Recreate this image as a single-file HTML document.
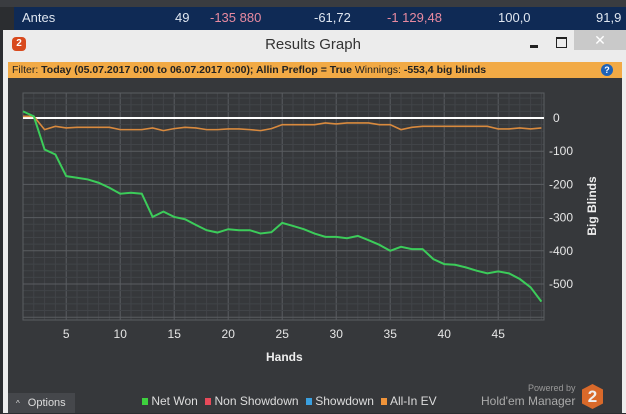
<!DOCTYPE html>
<html><head><meta charset="utf-8"><style>
body{margin:0;width:626px;height:413px;overflow:hidden;background:#2b2d30;font-family:"Liberation Sans",sans-serif;position:relative}
.abs{position:absolute}
</style></head><body>
<div class="abs" style="left:0;top:0;width:626px;height:7px;background:#3a3c40"></div>
<div class="abs" style="left:14px;top:7px;width:612px;height:23px;background:#0f2a55;color:#dfe6f0;font-size:13px">
 <span class="abs" style="left:8px;top:3px">Antes</span>
 <span class="abs" style="left:161px;top:3px">49</span>
 <span class="abs" style="left:196px;top:3px;color:#e88aa0">-135 880</span>
 <span class="abs" style="left:300px;top:3px">-61,72</span>
 <span class="abs" style="left:373px;top:3px;color:#e88aa0">-1 129,48</span>
 <span class="abs" style="left:484px;top:3px">100,0</span>
 <span class="abs" style="left:582px;top:3px">91,9</span>
</div>
<div class="abs" style="left:3px;top:30px;width:623px;height:383px;background:#ececec"></div>
<div class="abs" style="left:12px;top:37px;width:14px;height:14px;border-radius:4px;background:#d84a1e;color:#fff;font-size:10px;font-weight:bold;text-align:center;line-height:14px">2</div>
<div class="abs" style="left:0;top:36px;width:626px;text-align:center;font-size:15px;color:#333">Results Graph</div>
<div class="abs" style="left:530px;top:45px;width:8px;height:3px;background:#222"></div>
<div class="abs" style="left:556px;top:37px;width:9px;height:8px;border:1px solid #222;border-top-width:2px"></div>
<div class="abs" style="left:574px;top:30px;width:52px;height:20px;background:#c9c9c9;color:#fff;font-size:14px;text-align:center;line-height:20px">✕</div>
<div class="abs" style="left:8px;top:62px;width:614px;height:16px;background:#f2aa45;font-size:10.5px;color:#222;line-height:16px;white-space:nowrap">
 <span style="margin-left:4px">Filter: <b>Today (05.07.2017 0:00 to 06.07.2017 0:00); Allin Preflop = True</b> Winnings: <b>-553,4 big blinds</b></span>
 <span class="abs" style="left:593px;top:2px;width:12px;height:12px;border-radius:6px;background:#1d62b8;color:#fff;font-size:9px;font-weight:bold;text-align:center;line-height:12px">?</span>
</div>
<div class="abs" style="left:8px;top:78px;width:614px;height:335px;background:#36383b"></div>
<svg class="abs" style="left:0;top:0" width="626" height="413">
<g id="grid"></g><g id="series"></g><g id="axes"></g>
</svg>
<div class="abs" style="left:266px;top:350px;color:#eee;font-size:12px;font-weight:bold">Hands</div>
<div class="abs" style="left:592px;top:206px;color:#eee;font-size:12px;font-weight:bold;transform:translate(-50%,-50%) rotate(-90deg);white-space:nowrap">Big Blinds</div>
<div class="abs" style="left:8px;top:393px;width:67px;height:20px;background:#45474b;color:#ddd;font-size:11px;line-height:20px"><span style="margin-left:8px;font-size:8px">^</span><span style="margin-left:8px">Options</span></div>
<div class="abs" style="left:142px;top:394px;color:#ddd;font-size:12px;white-space:nowrap">
 <span><span style="display:inline-block;width:6px;height:7px;background:#3ed13e"></span> Net Won</span>
 <span style="margin-left:4px"><span style="display:inline-block;width:6px;height:7px;background:#e84a5a"></span> Non Showdown</span>
 <span style="margin-left:4px"><span style="display:inline-block;width:6px;height:7px;background:#3aa0e0"></span> Showdown</span>
 <span style="margin-left:4px"><span style="display:inline-block;width:6px;height:7px;background:#f0943a"></span> All-In EV</span>
</div>
<div class="abs" style="left:528px;top:383px;color:#999;font-size:9px">Powered by</div>
<div class="abs" style="left:481px;top:394px;color:#aaa;font-size:12px">Hold'em Manager</div>
<div class="abs" style="left:582px;top:384px;width:21px;height:25px;background:#d9692a;color:#eee;font-weight:bold;font-size:17px;text-align:center;line-height:25px;clip-path:polygon(50% 0,100% 22%,100% 78%,50% 100%,0 78%,0 22%)">2</div>
<script>
const hands=[1,2,3,4,5,6,7,8,9,10,11,12,13,14,15,16,17,18,19,20,21,22,23,24,25,26,27,28,29,30,31,32,33,34,35,36,37,38,39,40,41,42,43,44,45,46,47,48,49];
const netWon=[20,5,-95,-110,-175,-180,-185,-195,-210,-228,-225,-228,-298,-282,-298,-305,-322,-338,-345,-335,-338,-338,-348,-344,-316,-325,-335,-348,-358,-358,-362,-355,-368,-382,-400,-388,-395,-395,-425,-440,-442,-450,-460,-468,-462,-468,-485,-510,-553];
const allInEv=[5,5,-35,-25,-30,-28,-28,-28,-28,-35,-35,-35,-30,-38,-32,-28,-30,-35,-35,-33,-33,-35,-38,-32,-20,-20,-20,-20,-15,-18,-15,-15,-15,-20,-20,-35,-28,-25,-25,-25,-25,-25,-25,-25,-33,-33,-30,-33,-30,-30,-28];
const xTicks=[5,10,15,20,25,30,35,40,45];
const yTicks=[0,-100,-200,-300,-400,-500];
const L=23,R=544,T=93,B=320;
const xs=h=>23+(h-1)*10.8;
const ys=v=>118-v*0.332;
const NS='http://www.w3.org/2000/svg';
function mk(tag,attrs,parent){const e=document.createElementNS(NS,tag);for(const k in attrs)e.setAttribute(k,attrs[k]);parent.appendChild(e);return e;}
const grid=document.getElementById('grid'),axes=document.getElementById('axes'),series=document.getElementById('series');
for(let h=1;h<=49;h++){const x=xs(h);const l=mk('line',{x1:x,x2:x,y1:T,y2:B,stroke:h%5==0?'#5a5d61':'#414448','stroke-width':1},grid);

}
for(let v=60;v>=-600;v-=20){const y=ys(v);if(y<T||y>B)continue;const l=mk('line',{x1:L,x2:R,y1:y,y2:y,stroke:v%100==0?'#5a5d61':'#414448','stroke-width':1},grid);

}
const fr=mk('rect',{x:L,y:T,width:R-L,height:B-T,fill:'none',stroke:'#5b5e62'},grid);


xTicks.forEach(t=>{const e=mk('text',{x:xs(t),y:338,fill:'#e6e6e6','font-size':12,'text-anchor':'middle','font-family':'Liberation Sans'},axes);e.textContent=t;

});
yTicks.forEach(t=>{const e=mk('text',{x:t==0?553:549,y:ys(t)+4,fill:'#e6e6e6','font-size':12,'font-family':'Liberation Sans'},axes);e.textContent=t;

});
const zl=mk('line',{x1:L,x2:R,y1:ys(0),y2:ys(0),stroke:'#ffffff','stroke-width':2},series);


const ev=mk('polyline',{points:hands.map((h,i)=>xs(h)+','+ys(allInEv[i])).join(' '),fill:'none',stroke:'#d98a3e','stroke-width':1.6},series);


const nw=mk('polyline',{points:hands.map((h,i)=>xs(h)+','+ys(netWon[i])).join(' '),fill:'none',stroke:'#3ccc5a','stroke-width':2},series);


</script>
</body></html>
